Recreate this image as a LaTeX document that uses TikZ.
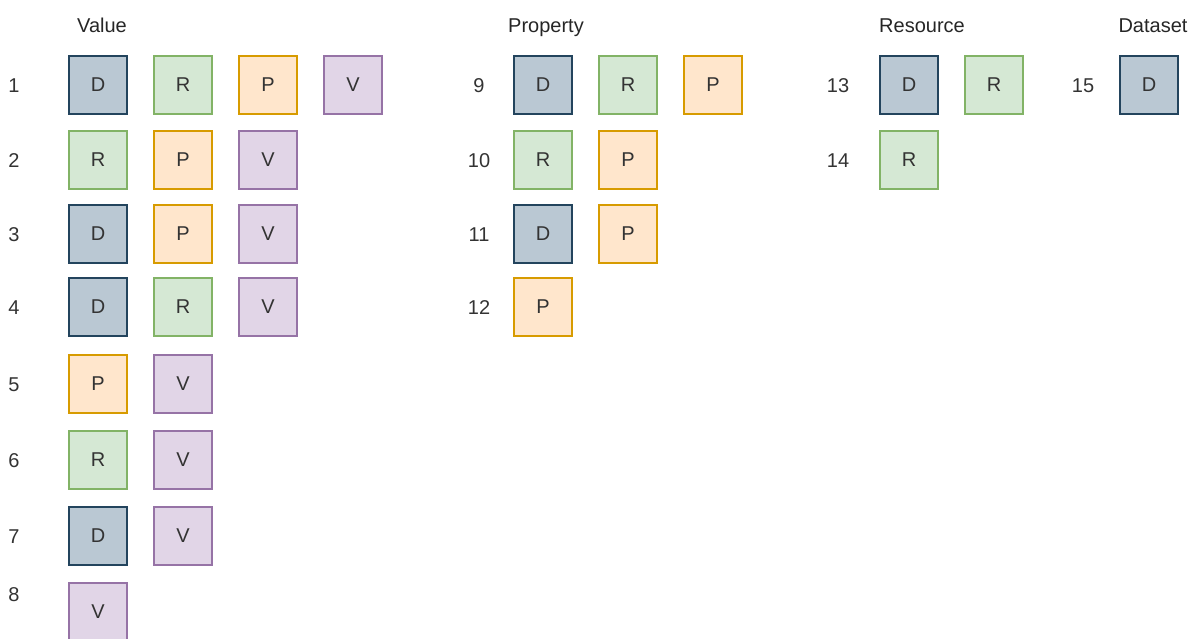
\documentclass[tikz,border=0pt]{standalone}
\usepackage{fontspec}
\setmainfont{Liberation Sans}
\usepackage{tikz}

\definecolor{fillD}{HTML}{BAC8D3}
\definecolor{lineD}{HTML}{23445D}
\definecolor{fillR}{HTML}{D5E8D4}
\definecolor{lineR}{HTML}{82B366}
\definecolor{fillP}{HTML}{FFE6CC}
\definecolor{lineP}{HTML}{D79B00}
\definecolor{fillV}{HTML}{E1D5E7}
\definecolor{lineV}{HTML}{9673A6}
\definecolor{ink}{HTML}{333333}

% one row of cells: name, first x, y, letters
\newcommand{\cellrow}[4]{%
  \foreach \t [count=\i] in {#4} {\node[cell=\t] (#1-\i) at ({#2+85*(\i-1)},#3) {\t};}}

\begin{document}
\begin{tikzpicture}[x=0.75pt, y=-0.75pt,
    cell/.style={draw=line#1, fill=fill#1, line width=1.1pt, minimum size=43.5pt,
        inner sep=0pt, text=ink, font=\fontsize{15}{18}\selectfont},
    num/.style={text=ink, font=\fontsize{15}{18}\selectfont},
    head/.style={anchor=base, text=black!85, font=\fontsize{15}{18}\selectfont}]
    \useasboundingbox (0,0) rectangle (1190,639);
    % headers
    \node[head] (hV) at (102,32) {Value};
    \node[head] (hP) at (546,32) {Property};
    \node[head] (hR) at (922,32) {Resource};
    \node[head] (hD) at (1153,32) {Dataset};
    % value
    \foreach \n/\y in {1/86,2/161,3/235,4/308,5/385,6/461,7/537,8/595}
        {\node[num] (n\n) at (14,\y) {\n};}
    \cellrow{v1}{98}{85}{D,R,P,V}
    \cellrow{v2}{98}{160}{R,P,V}
    \cellrow{v3}{98}{234}{D,P,V}
    \cellrow{v4}{98}{307}{D,R,V}
    \cellrow{v5}{98}{384}{P,V}
    \cellrow{v6}{98}{460}{R,V}
    \cellrow{v7}{98}{536}{D,V}
    \cellrow{v8}{98}{612}{V}
    % property
    \foreach \n/\y in {9/86,10/161,11/235,12/308}
        {\node[num] (n\n) at (479,\y) {\n};}
    \cellrow{p9}{543}{85}{D,R,P}
    \cellrow{p10}{543}{160}{R,P}
    \cellrow{p11}{543}{234}{D,P}
    \cellrow{p12}{543}{307}{P}
    % resource
    \foreach \n/\y in {13/86,14/161}
        {\node[num] (n\n) at (838,\y) {\n};}
    \cellrow{r13}{909}{85}{D,R}
    \cellrow{r14}{909}{160}{R}
    % dataset
    \node[num] (n15) at (1083,86) {15};
    \cellrow{d15}{1149}{85}{D}
\end{tikzpicture}
\end{document}
